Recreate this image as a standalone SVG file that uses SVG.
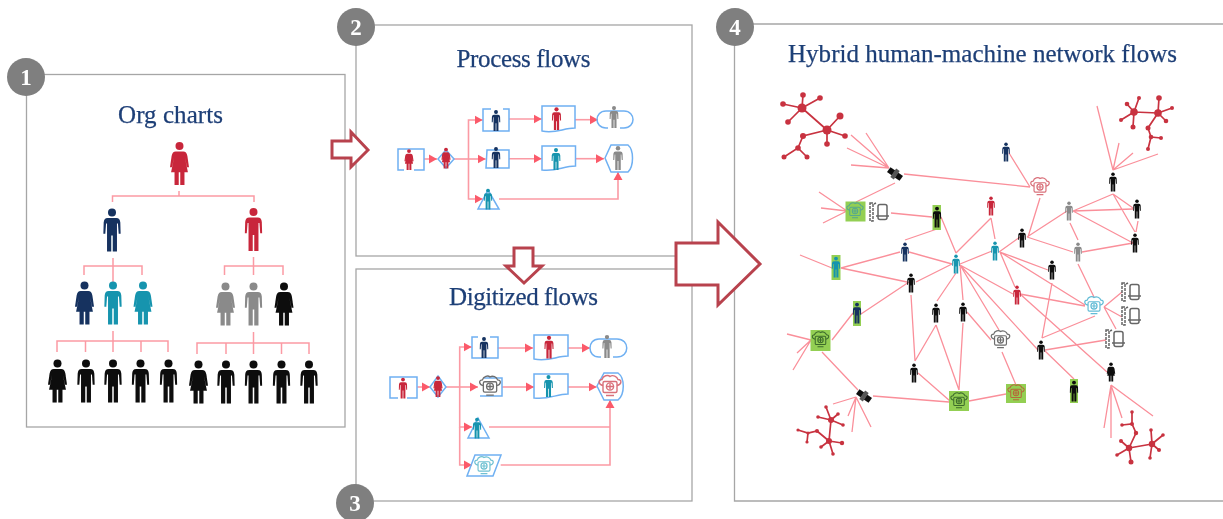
<svg xmlns="http://www.w3.org/2000/svg" width="1223" height="519" viewBox="0 0 1223 519">
<style>
.frame{fill:none;stroke:#a6a6a6;stroke-width:1.3}
.title{font-family:"Liberation Serif",Georgia,serif;font-size:25px;fill:#1f3f77;stroke:#1f3f77;stroke-width:.25;text-anchor:middle}
.num{font-family:"Liberation Serif",serif;font-weight:bold;font-size:23px;fill:#fff;text-anchor:middle}
.badge{fill:#7f7f7f}
.big{fill:#fff;stroke:#b8434e;stroke-width:3}
.org{fill:none;stroke:#fb9aa4;stroke-width:1.5}
.flow{fill:none;stroke:#fb9aa4;stroke-width:1.6}
.flowa{fill:none;stroke:#fb9aa4;stroke-width:1.6;marker-end:url(#tip)}
.shape{fill:none;stroke:#6fb0f2;stroke-width:1.5}
.net{fill:none;stroke:#fa8f9a;stroke-width:1.3}
.clu{fill:none;stroke:#c8323f;stroke-width:1.7}
.clu-d{fill:#c8323f}
.navy{fill:#14305f}.red{fill:#c8283a}.teal{fill:#1694ae}.gray{fill:#8a8a8a}.blk{fill:#0a0a0a}
.green{fill:#93cf53}
.c-gray{color:#6e6e6e}.c-red{color:#d9707a}.c-teal{color:#6fc1d2}.c-dark{color:#3d6b2c}.c-blue{color:#62bcd6}.c-or{color:#b5693a}.c-green{color:#56a88f}
</style>
<defs>
<filter id="soft" x="0" y="0" width="100%" height="100%" filterUnits="userSpaceOnUse" primitiveUnits="userSpaceOnUse"><feGaussianBlur stdDeviation="0.4"/></filter>
<marker id="tip" markerUnits="userSpaceOnUse" markerWidth="9" markerHeight="10" refX="8" refY="5" orient="auto"><path d="M0,0.5 L8,5 L0,9.5Z" fill="#fb5a6a"/></marker>
<g id="m"><circle cx="0" cy="-16.200" r="3.700"/><path d="M-4,-11 H4 Q7.300,-11 7.700,-7 L8,3.500 H6.200 L5.500,-6 L4.600,-6 V20 H0.700 V5 H-0.700 V20 H-4.600 V-6 L-5.500,-6 L-6.200,3.500 H-8 L-7.700,-7 Q-7.300,-11 -4,-11Z"/></g>
<g id="f"><circle cx="0" cy="-16.200" r="3.700"/><path d="M-3.500,-11 H3.500 Q6.500,-11 7.300,-7 L8.800,3.500 H7 L5,-5.500 L7.800,8 H4.600 V20 H0.700 V8 H-0.700 V20 H-4.600 V8 H-7.800 L-5,-5.500 L-7,3.500 H-8.800 L-7.300,-7 Q-6.500,-11 -3.500,-11Z"/></g>
<g id="cloud" fill="none" stroke="currentColor" stroke-width="1.4"><path d="M-7,-1 C-12,-2 -12,-7 -8,-7 C-7,-11 -2,-12 0,-10 C3,-12 7,-10 8,-7 C12,-7 12,-2 7,-1"/><rect x="-7" y="-5" width="14" height="11" rx="1.500"/><circle cx="0" cy="0" r="3.600"/><path d="M-3,0 H3 M0,-3 V3 M-4,9 H4"/></g>
<g id="dev" fill="none" stroke="#666" stroke-width="1.500"><rect x="-10" y="-9" width="3" height="18" stroke-dasharray="3 1"/><path d="M-6,-8 L-4,-9"/><rect x="-2" y="-7.500" width="9" height="15" rx="2"/><path d="M-4,4 H9"/></g>
<g id="sat"><g transform="rotate(35) scale(.85)"><rect x="-9" y="-3.500" width="7" height="7" fill="#111"/><rect x="2" y="-3.500" width="7" height="7" fill="#111"/><rect x="-2.500" y="-6" width="5" height="12" fill="#555"/></g></g>
</defs>

<g id="picture" filter="url(#soft)">
<g id="frames">
<rect class="frame" x="26.500" y="74.500" width="318.500" height="352.500"/>
<rect class="frame" x="356" y="25" width="336" height="231"/>
<rect class="frame" x="356" y="269" width="336" height="232"/>
<path class="frame" d="M1223,24 H734.500 V501 H1223"/>
</g>

<g id="big-arrows">
<path class="big" d="M332,141 H351 V132 L368,150 L351,167 V158 H332Z"/>
<path class="big" d="M514,248 H533 V266 H542 L524,283 L506,266 H514Z"/>
<path class="big" d="M676,243 H718 V222 L760,264 L718,305 V285 H676Z"/>
</g>

<g id="badge-1"><circle class="badge" cx="26" cy="77" r="19"/><text class="num" x="26" y="85">1</text></g>
<g id="badge-2"><circle class="badge" cx="356" cy="27" r="19"/><text class="num" x="356" y="35">2</text></g>
<g id="badge-3"><circle class="badge" cx="355" cy="503" r="19"/><text class="num" x="355" y="511">3</text></g>
<g id="badge-4"><circle class="badge" cx="735" cy="27" r="19"/><text class="num" x="735" y="35">4</text></g>

<text class="title" x="170.500" y="123" textLength="105" lengthAdjust="spacing">Org charts</text>
<text class="title" x="523.500" y="67" textLength="134" lengthAdjust="spacing">Process flows</text>
<text class="title" x="523.500" y="305" textLength="149" lengthAdjust="spacing">Digitized flows</text>
<text class="title" x="982.500" y="62" textLength="389" lengthAdjust="spacing">Hybrid human-machine network flows</text>

<g id="connectors">
<g id="org-connectors">
<path class="org" d="M179,191 V196 M112.500,202 V196 H254 V202"/>
<path class="org" d="M113,258 V282 M84,275 V266 H142 V275"/>
<path class="org" d="M253.500,257 V275 M224.500,275 V266 H283 V275"/>
<path class="org" d="M113,331 V352 M57,352 V341 H168 V352 M85.500,352 V341 M141,352 V341"/>
<path class="org" d="M253.500,332 V354 M197,354 V343 H309 V354 M226,354 V343 M281.500,354 V343"/>
</g>
<g id="process-connectors">
<path class="flowa" d="M424,159 H437"/>
<path class="flow" d="M454,159 H468.500"/>
<path class="flowa" d="M468.500,159 V120 H482.700"/>
<path class="flowa" d="M468.500,159 H485.700"/>
<path class="flowa" d="M468.500,159 V199 H482.700"/>
<path class="flowa" d="M509,119 H541.700"/>
<path class="flowa" d="M575,119.700 H598"/>
<path class="flowa" d="M509,158.700 H541.700"/>
<path class="flowa" d="M575.700,158.700 H604"/>
<path class="flowa" d="M499,199 H618 V172"/>
</g>
<g id="digitized-connectors">
<path class="flowa" d="M417.300,387 H430"/>
<path class="flow" d="M446,387 H460"/>
<path class="flowa" d="M459.700,387 V347 H471.700"/>
<path class="flowa" d="M459.700,387 H478"/>
<path class="flowa" d="M459.700,387 V427 H472"/>
<path class="flowa" d="M459.700,427 V465 H472"/>
<path class="flowa" d="M497.700,348 H533"/>
<path class="flowa" d="M568,348 H590"/>
<path class="flowa" d="M502,387 H534"/>
<path class="flowa" d="M568,387 H596.700"/>
<path class="flow" d="M489,427 H610"/>
<path class="flowa" d="M500.700,465 H610 V400"/>
</g>
<g id="network-connectors">
<path class="net" d="M889,168 L851,135 M889,168 L866,133 M889,168 L847,148 M889,168 L851,165 M895,183 L856,202 M904,174 L1030,187 M847,211 L819,192 M847,211 L821,208 M847,211 L823,223 M891,213 L932,217 M905,240 L937,229 M941,217 L956,253 M956,253 L991,218 M991,218 L995,239 M800,255 L832,268 M841,268 L900,252 M841,268 L907,282 M909,252 L952,264 M916,282 L952,264 M960,264 L992,251"/>
<path class="net" d="M1009,153 L1030,187 M1040,198 L1028,237 M999,252 L1020,237 M1027,237 L1067,211 M1027,237 L1073,252 M1073,211 L1113,194 M1073,211 L1133,209 M1073,211 L1133,243 M1113,194 L1133,208 M1113,194 L1135,232 M1138,221 L1136,232 M1082,252 L1133,243 M1070,223 L1078,240 M1078,264 L1094,297 M1113,170 L1097,106 M1113,170 L1119,143 M1113,170 L1133,153 M1113,170 L1158,154"/>
<path class="net" d="M1000,252 L1048,270 M1000,252 L1015,287 M1000,252 L1085,305 M1052,283 L1042,338 M1095,316 L1042,338 M1020,294 L1085,306 M960,265 L1013,294 M960,265 L1038,350 M960,265 L999,330 M1020,294 L1107,372 M1104,307 L1122,292 M1104,307 L1122,317 M1104,307 L1116,329 M1045,350 L1106,340 M1045,351 L1074,379 M1002,352 L1016,385 M969,401 L1006,394 M1111,385 L1104,428 M1111,385 L1111,438 M1111,385 L1122,418 M1111,385 L1153,416"/>
<path class="net" d="M911,295 L915,361 M915,361 L936,325 M936,325 L959,390 M963,323 L959,390 M918,373 L950,401 M967,312 L991,340 M873,396 L949,402 M861,314 L909,282 M832,340 L853,313 M822,352 L858,390 M811,340 L787,334 M811,340 L797,353 M811,340 L793,370 M856,397 L833,404 M856,397 L848,416 M856,397 L852,432 M856,397 L871,427 M956,273 L937,301 M960,265 L963,300"/>
</g>
</g>

<g id="org-chart">
<g id="o1"><use href="#f" class="red" transform="translate(179.500,163.500) scale(1.08)"/></g>
<g id="o2"><use href="#m" class="navy" transform="translate(112,230) scale(1.08)"/></g>
<g id="o3"><use href="#m" class="red" transform="translate(253.500,229.500) scale(1.08)"/></g>
<g id="o4"><use href="#f" class="navy" transform="translate(84.500,303) scale(1.08)"/></g>
<g id="o5"><use href="#m" class="teal" transform="translate(113,303) scale(1.08)"/></g>
<g id="o6"><use href="#f" class="teal" transform="translate(143,303) scale(1.08)"/></g>
<g id="o7"><use href="#f" class="gray" transform="translate(225.500,304) scale(1.08)"/></g>
<g id="o8"><use href="#m" class="gray" transform="translate(253.500,304) scale(1.08)"/></g>
<g id="o9"><use href="#f" class="blk" transform="translate(284,304) scale(1.08)"/></g>
<g id="o10"><use href="#f" class="blk" transform="translate(57.500,381) scale(1.08)"/></g>
<g id="o11"><use href="#m" class="blk" transform="translate(86,381) scale(1.08)"/></g>
<g id="o12"><use href="#m" class="blk" transform="translate(113,381) scale(1.08)"/></g>
<g id="o13"><use href="#m" class="blk" transform="translate(140.500,381) scale(1.08)"/></g>
<g id="o14"><use href="#m" class="blk" transform="translate(168.500,381) scale(1.08)"/></g>
<g id="o15"><use href="#f" class="blk" transform="translate(198.500,382) scale(1.08)"/></g>
<g id="o16"><use href="#m" class="blk" transform="translate(226,382) scale(1.08)"/></g>
<g id="o17"><use href="#m" class="blk" transform="translate(253.500,382) scale(1.08)"/></g>
<g id="o18"><use href="#m" class="blk" transform="translate(281.500,382) scale(1.08)"/></g>
<g id="o19"><use href="#m" class="blk" transform="translate(309,382) scale(1.08)"/></g>
</g>

<g id="process-flow">
<g id="p1"><path class="shape" d="M404,170 H398 V149 H424 V170 H414 M414,149 H404"/><use href="#f" class="red" transform="translate(409,159.500) scale(.52)"/></g>
<g id="p2"><path class="shape" d="M446,150 L454,159 L446,168 L438,159Z"/><use href="#f" class="red" transform="translate(446,158) scale(.52)"/></g>
<g id="p3"><path class="shape" d="M503,109 H509 V131 H483 V109 H491 M497,131 H503"/><use href="#m" class="navy" transform="translate(496,120.500) scale(.53)"/></g>
<g id="p4"><path class="shape" d="M542,106 H575 V128 C563,128 556,134 542,131Z"/><use href="#m" class="red" transform="translate(556.500,118.500) scale(.57)"/></g>
<g id="p5"><path class="shape" d="M606,111 H624 C636,111 636,128 624,128 H620 M608,128 H606 C594,128 594,111 606,111"/><use href="#m" class="gray" transform="translate(614,117) scale(.55)"/></g>
<g id="p6"><path class="shape" d="M487,150 H509 V168 H486Z"/><use href="#m" class="navy" transform="translate(496,157.500) scale(.53)"/></g>
<g id="p7"><path class="shape" d="M542,146 H575.500 V166 C563,166 556,172 542,170Z"/><use href="#m" class="teal" transform="translate(556,159) scale(.55)"/></g>
<g id="p8"><path class="shape" d="M605,158 L611,145 H628 C634,150 634,166 628,172 H611Z"/><use href="#m" class="gray" transform="translate(618,158) scale(.6)"/></g>
<g id="p9"><path class="shape" d="M488,190 L499,209 H478Z"/><use href="#m" class="teal" transform="translate(488,199) scale(.52)"/></g>
</g>

<g id="digitized-flow">
<g id="d1"><path class="shape" d="M398,398 H390 V377 H417 V398 H407 M407,377 H398"/><use href="#m" class="red" transform="translate(403,388) scale(.52)"/></g>
<g id="d2"><path class="shape" d="M438,376 L446,387 L438,397 L430,387Z"/><use href="#f" class="red" transform="translate(438,386.500) scale(.52)"/></g>
<g id="d3"><path class="shape" d="M490,337 H498 V358 H472 V337 H478"/><use href="#m" class="navy" transform="translate(484,347.500) scale(.53)"/></g>
<g id="d4"><path class="shape" d="M534,335 H568 V356 C556,356 549,362 534,359Z"/><use href="#m" class="red" transform="translate(549,347) scale(.57)"/></g>
<g id="d5"><path class="shape" d="M599,339 H617 C630,339 630,357 617,357 H613 M601,357 H599 C587,357 587,339 599,339"/><use href="#m" class="gray" transform="translate(607,346.500) scale(.58)"/></g>
<g id="d6"><path class="shape" d="M484,378 H502 V396 H480"/><use href="#cloud" class="c-gray" transform="translate(490,386.500) scale(.95)"/></g>
<g id="d7"><path class="shape" d="M534,374 H568 V394 C556,394 549,400 534,398Z"/><use href="#m" class="teal" transform="translate(548.500,386) scale(.55)"/></g>
<g id="d8"><path class="shape" d="M597,386 L604,373 H618 C625,378 625,394 618,400 H604Z"/><use href="#cloud" class="c-red" transform="translate(610,386.500) scale(1)"/></g>
<g id="d9"><path class="shape" d="M478,418 L489,438 H468Z"/><use href="#m" class="teal" transform="translate(477,428) scale(.52)"/></g>
<g id="d10"><path class="shape" d="M475,455 H501 L493,476 H467Z"/><use href="#cloud" class="c-teal" transform="translate(484,466) scale(.85)"/></g>
</g>

<g id="network">
<g id="c-tl"><path class="clu" d="M802,108 L783,104 M802,108 L803,95 M802,108 L820,98 M802,108 L788,122 M802,108 L827,130 M827,130 L840,116 M827,130 L845,136 M827,130 L827,144 M827,130 L803,136 L798,148 L784,157 M798,148 L807,157"/><g class="clu-d"><circle cx="802" cy="108" r="4.500"/><circle cx="827" cy="130" r="4.500"/><circle cx="783" cy="104" r="2.800"/><circle cx="803" cy="95" r="2.800"/><circle cx="820" cy="98" r="2.800"/><circle cx="788" cy="122" r="2.800"/><circle cx="840" cy="116" r="3.500"/><circle cx="845" cy="136" r="2.800"/><circle cx="827" cy="144" r="2.800"/><circle cx="803" cy="136" r="3"/><circle cx="798" cy="148" r="2.800"/><circle cx="784" cy="157" r="2.500"/><circle cx="807" cy="157" r="2.500"/></g></g>
<g id="c-tr"><path class="clu" d="M1134,112 L1127,104 M1134,112 L1139,98 M1134,112 L1121,120 M1134,112 L1133,127 M1134,112 L1158,113 M1158,113 L1159,98 M1158,113 L1172,108 M1158,113 L1166,121 M1158,113 L1148,128 L1151,137 L1161,138 M1151,137 L1148,149"/><g class="clu-d"><circle cx="1134" cy="112" r="3.800"/><circle cx="1158" cy="113" r="3.800"/><circle cx="1127" cy="104" r="2.300"/><circle cx="1139" cy="98" r="2"/><circle cx="1121" cy="120" r="2"/><circle cx="1133" cy="127" r="2.500"/><circle cx="1159" cy="98" r="2.800"/><circle cx="1172" cy="108" r="2"/><circle cx="1166" cy="121" r="2.300"/><circle cx="1148" cy="128" r="2.500"/><circle cx="1151" cy="137" r="2.300"/><circle cx="1161" cy="138" r="2"/><circle cx="1148" cy="149" r="2"/></g></g>
<g id="c-bl"><path class="clu" d="M831,420 L826,407 M831,420 L838,414 M831,420 L818,417 M831,420 L843,425 M831,420 L829,441 M829,441 L842,443 M829,441 L833,454 M829,441 L821,447 M829,441 L817,431 L808,433 L798,430 M808,433 L807,442"/><g class="clu-d"><circle cx="831" cy="420" r="3"/><circle cx="829" cy="441" r="3"/><circle cx="826" cy="407" r="1.800"/><circle cx="838" cy="414" r="1.800"/><circle cx="818" cy="417" r="1.800"/><circle cx="843" cy="425" r="1.800"/><circle cx="842" cy="443" r="2.200"/><circle cx="833" cy="454" r="1.800"/><circle cx="821" cy="447" r="1.800"/><circle cx="817" cy="431" r="2"/><circle cx="808" cy="433" r="1.600"/><circle cx="798" cy="430" r="1.600"/><circle cx="807" cy="442" r="1.600"/></g></g>
<g id="c-br"><path class="clu" d="M1129,448 L1121,441 M1129,448 L1117,455 M1129,448 L1131,462 M1129,448 L1136,433 L1132,424 L1122,425 M1132,424 L1132,412 M1129,448 L1152,444 M1152,444 L1151,430 M1152,444 L1163,435 M1152,444 L1159,450 M1152,444 L1150,458"/><g class="clu-d"><circle cx="1129" cy="448" r="3.200"/><circle cx="1152" cy="444" r="3.200"/><circle cx="1121" cy="441" r="2"/><circle cx="1117" cy="455" r="1.800"/><circle cx="1131" cy="462" r="2.500"/><circle cx="1136" cy="433" r="2.200"/><circle cx="1132" cy="424" r="2"/><circle cx="1122" cy="425" r="1.800"/><circle cx="1132" cy="412" r="1.800"/><circle cx="1151" cy="430" r="1.800"/><circle cx="1163" cy="435" r="1.800"/><circle cx="1159" cy="450" r="2"/><circle cx="1150" cy="458" r="1.800"/></g></g>

<g id="n-sat1"><use href="#sat" transform="translate(895,174)"/></g>
<g id="n-sat2"><use href="#sat" transform="translate(864,396)"/></g>
<g id="n-cloud1"><rect class="green" x="845.500" y="201.500" width="20" height="20"/><use href="#cloud" class="c-green" transform="translate(855,211) scale(.75)"/></g>
<g id="n-cloud2"><rect class="green" x="810.500" y="330" width="20" height="21"/><use href="#cloud" class="c-dark" transform="translate(820.500,340) scale(.75)"/></g>
<g id="n-cloud3"><rect class="green" x="949" y="391" width="20" height="20"/><use href="#cloud" class="c-dark" transform="translate(959,401) scale(.75)"/></g>
<g id="n-cloud4"><rect class="green" x="1006" y="384" width="20" height="19"/><use href="#cloud" class="c-or" transform="translate(1016,393) scale(.75)"/></g>
<g id="n-cloud5"><use href="#cloud" class="c-red" transform="translate(1040,187) scale(.85)"/></g>
<g id="n-cloud6"><use href="#cloud" class="c-gray" transform="translate(1000.500,340) scale(.85)"/></g>
<g id="n-cloud7"><use href="#cloud" class="c-blue" transform="translate(1094,306) scale(.85)"/></g>
<g id="n-dev1"><use href="#dev" transform="translate(880,212)"/></g>
<g id="n-dev2"><use href="#dev" transform="translate(1132,292)"/></g>
<g id="n-dev3"><use href="#dev" transform="translate(1132,316)"/></g>
<g id="n-dev4"><use href="#dev" transform="translate(1116,339)"/></g>
<g id="n-g1"><rect class="green" x="932.500" y="205" width="8.500" height="25"/><use href="#m" class="blk" transform="translate(937,217) scale(.52)"/></g>
<g id="n-g2"><rect class="green" x="831.500" y="255" width="9" height="25"/><use href="#m" class="teal" transform="translate(836,267) scale(.52)"/></g>
<g id="n-g3"><rect class="green" x="853" y="301" width="8" height="25"/><use href="#m" class="navy" transform="translate(857,313) scale(.52)"/></g>
<g id="n-g4"><rect class="green" x="1070" y="379" width="8" height="24"/><use href="#m" class="blk" transform="translate(1074,391) scale(.52)"/></g>
<g id="n-p1"><use href="#m" class="navy" transform="translate(905,252) scale(.48)"/></g>
<g id="n-p2"><use href="#m" class="blk" transform="translate(911,283) scale(.48)"/></g>
<g id="n-p3"><use href="#m" class="teal" transform="translate(956,264) scale(.48)"/></g>
<g id="n-p4"><use href="#m" class="red" transform="translate(991,206) scale(.48)"/></g>
<g id="n-p5"><use href="#m" class="teal" transform="translate(995,251) scale(.48)"/></g>
<g id="n-p6"><use href="#m" class="navy" transform="translate(1006,152) scale(.48)"/></g>
<g id="n-p7"><use href="#m" class="blk" transform="translate(1022,238) scale(.48)"/></g>
<g id="n-p8"><use href="#m" class="gray" transform="translate(1069,211) scale(.48)"/></g>
<g id="n-p9"><use href="#m" class="blk" transform="translate(1113,182) scale(.48)"/></g>
<g id="n-p10"><use href="#m" class="blk" transform="translate(1137,209) scale(.48)"/></g>
<g id="n-p11"><use href="#m" class="blk" transform="translate(1135,243) scale(.48)"/></g>
<g id="n-p12"><use href="#m" class="gray" transform="translate(1078,252) scale(.48)"/></g>
<g id="n-p13"><use href="#m" class="blk" transform="translate(1052,270) scale(.48)"/></g>
<g id="n-p14"><use href="#m" class="blk" transform="translate(936,313) scale(.48)"/></g>
<g id="n-p15"><use href="#m" class="blk" transform="translate(963,312) scale(.48)"/></g>
<g id="n-p16"><use href="#m" class="blk" transform="translate(914,373) scale(.48)"/></g>
<g id="n-p17"><use href="#m" class="red" transform="translate(1017,295) scale(.48)"/></g>
<g id="n-p18"><use href="#m" class="blk" transform="translate(1041,350) scale(.48)"/></g>
<g id="n-p19"><use href="#f" class="blk" transform="translate(1111,372) scale(.48)"/></g>
</g>
</g>
</svg>
